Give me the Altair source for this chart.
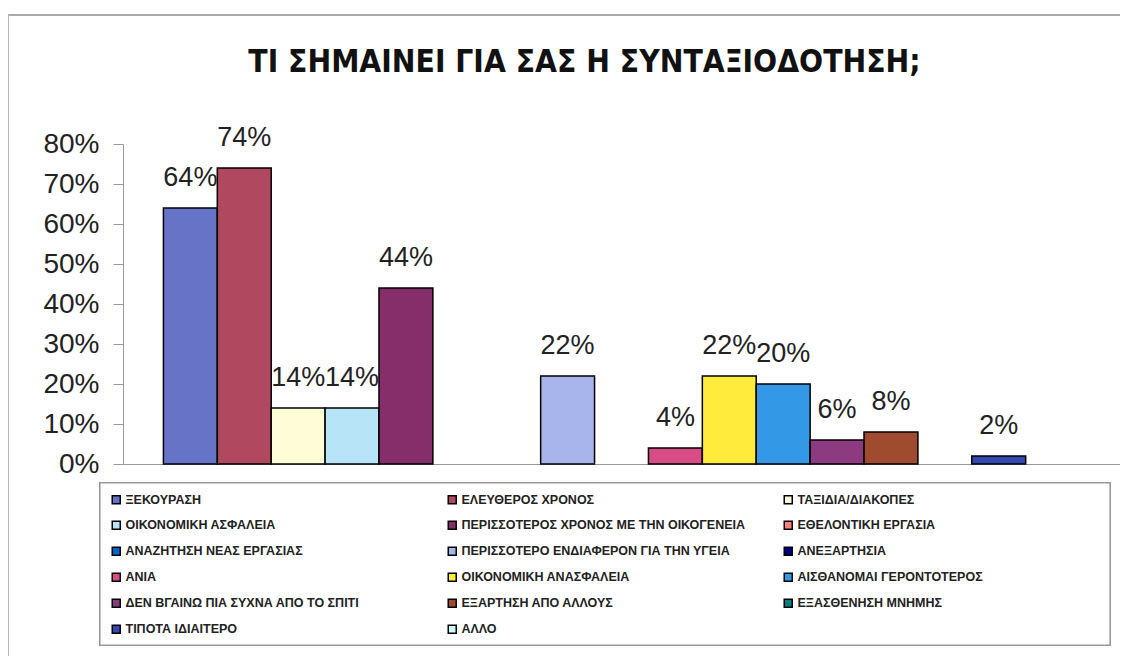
import altair as alt
import pandas as pd

series = [
    "ΞΕΚΟΥΡΑΣΗ",
    "ΕΛΕΥΘΕΡΟΣ ΧΡΟΝΟΣ",
    "ΤΑΞΙΔΙΑ/ΔΙΑΚΟΠΕΣ",
    "ΟΙΚΟΝΟΜΙΚΗ ΑΣΦΑΛΕΙΑ",
    "ΠΕΡΙΣΣΟΤΕΡΟΣ ΧΡΟΝΟΣ ΜΕ ΤΗΝ ΟΙΚΟΓΕΝΕΙΑ",
    "ΕΘΕΛΟΝΤΙΚΗ ΕΡΓΑΣΙΑ",
    "ΑΝΑΖΗΤΗΣΗ ΝΕΑΣ ΕΡΓΑΣΙΑΣ",
    "ΠΕΡΙΣΣΟΤΕΡΟ ΕΝΔΙΑΦΕΡΟΝ ΓΙΑ ΤΗΝ ΥΓΕΙΑ",
    "ΑΝΕΞΑΡΤΗΣΙΑ",
    "ΑΝΙΑ",
    "ΟΙΚΟΝΟΜΙΚΗ ΑΝΑΣΦΑΛΕΙΑ",
    "ΑΙΣΘΑΝΟΜΑΙ ΓΕΡΟΝΤΟΤΕΡΟΣ",
    "ΔΕΝ ΒΓΑΙΝΩ ΠΙΑ ΣΥΧΝΑ ΑΠΟ ΤΟ ΣΠΙΤΙ",
    "ΕΞΑΡΤΗΣΗ ΑΠΟ ΑΛΛΟΥΣ",
    "ΕΞΑΣΘΕΝΗΣΗ ΜΝΗΜΗΣ",
    "ΤΙΠΟΤΑ ΙΔΙΑΙΤΕΡΟ",
    "ΑΛΛΟ",
]
values = [0.64, 0.74, 0.14, 0.14, 0.44, 0.0, 0.0, 0.22, 0.0, 0.04,
          0.22, 0.20, 0.06, 0.08, 0.0, 0.02, 0.0]
colors = ["#6674C8", "#B04860", "#FFFDD8", "#B8E4F8", "#862E6A", "#FF8080",
          "#0066CC", "#A8B4EC", "#000080", "#D84C88", "#FFEB3C", "#3399E6",
          "#8E3A80", "#A04A30", "#008080", "#3348B0", "#CCFFFF"]
y_ticks = [0, 0.1, 0.2, 0.3, 0.4, 0.5, 0.6, 0.7, 0.8]
title_text = "ΤΙ ΣΗΜΑΙΝΕΙ ΓΙΑ ΣΑΣ Η ΣΥΝΤΑΞΙΟΔΟΤΗΣΗ;"

df = pd.DataFrame({"series": series, "value": values})

W, H = 997, 320

x_enc = alt.X("series:N", scale=alt.Scale(domain=series, paddingInner=0, paddingOuter=0.75),
              axis=alt.Axis(title=None, labels=False, ticks=False, domainColor="#999999",
                            domainWidth=1.2))
y_enc = alt.Y("value:Q", scale=alt.Scale(domain=[0, 0.8], nice=False),
              axis=alt.Axis(title=None, values=y_ticks, format=".0%", grid=False,
                            domainColor="#999999", tickColor="#999999", tickSize=10,
                            labelFontSize=28, labelFont="Liberation Sans",
                            labelColor="#222222", labelPadding=14))

color_enc = alt.Color("series:N", scale=alt.Scale(domain=series, range=colors),
                      legend=alt.Legend(title=None, orient="none", legendX=-23, legendY=339,
                                        columns=3, gridAlign="all", direction="horizontal"))

base = alt.Chart(df)

bars = base.transform_filter(alt.datum.value > 0).mark_bar(
    stroke="black", strokeWidth=1.5
).encode(x=x_enc, y=y_enc, color=color_enc)

labels = base.transform_filter(alt.datum.value > 0).mark_text(
    baseline="alphabetic", dy=-22, fontSize=27, font="Liberation Sans", color="#222222"
).encode(x=x_enc, y=y_enc, text=alt.Text("value:Q", format=".0%"))

frame_top = base.mark_rule(color="#aaaaaa", strokeWidth=1.5).encode(
    x=alt.value(-123), x2=alt.value(W + 10), y=alt.value(-129))
frame_left = base.mark_rule(color="#bbbbbb", strokeWidth=1.2).encode(
    x=alt.value(-115), y=alt.value(-129), y2=alt.value(512))
legend_box = base.mark_rect(fill="white", stroke="#999999", strokeWidth=1.2).encode(
    x=alt.value(-23), x2=alt.value(987), y=alt.value(339), y2=alt.value(501))

chart = alt.layer(frame_top, frame_left, legend_box, bars, labels).properties(
    width=W, height=H,
    title=alt.TitleParams(title_text, anchor="middle", frame="group", dx=-37,
                          font="Liberation Sans Narrow, DejaVu Sans Condensed, Liberation Sans",
                          fontSize=31.5, fontWeight="bold", color="#111111", offset=-64),
    autosize=alt.AutoSizeParams(type="none"),
    padding={"left": 115, "top": 136, "right": 0, "bottom": 200},
).configure_view(stroke=None).configure_legend(
    labelFont="Liberation Sans", labelFontSize=12.5, labelFontWeight="bold",
    labelColor="#222222", labelLimit=500, symbolType="square", symbolSize=64,
    symbolStrokeColor="black", symbolStrokeWidth=1.5, labelOffset=3,
    padding=10, rowPadding=11, columnPadding=35
)

chart.save("out.html", embed_options={"renderer": "svg", "actions": False})
